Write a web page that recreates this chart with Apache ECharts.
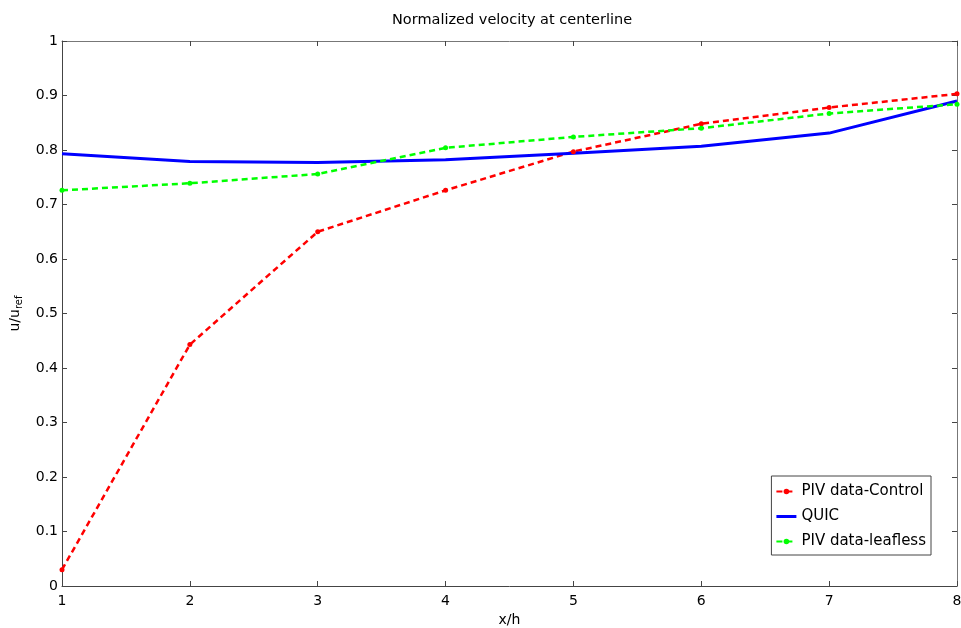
<!DOCTYPE html>
<html><head><meta charset="utf-8">
<script src="https://cdn.jsdelivr.net/npm/echarts@6/dist/echarts.min.js"></script>
<style>html,body{margin:0;padding:0;background:#fff}#c{width:961px;height:628px}</style>
</head><body><div id="c"></div>
<script>
var xValues = [1, 2, 3, 4, 5, 6, 7, 8];
var pivControl = [0.030, 0.443, 0.650, 0.726, 0.797, 0.848, 0.878, 0.903];
var quic = [0.793, 0.779, 0.777, 0.782, 0.794, 0.807, 0.831, 0.890];
var pivLeafless = [0.726, 0.739, 0.756, 0.804, 0.824, 0.840, 0.867, 0.884];
var seriesNames = ['PIV data-Control', 'QUIC', 'PIV data-leafless'];

function pairs(v){ return xValues.map(function(x,i){return [x, v[i]];}); }
var font = 'DejaVu Sans';
var axisCol = '#444';
var chart = echarts.init(document.getElementById('c'));
var xBase = {type:'value', min:1, max:8, interval:1,
  axisLine:{show:true, onZero:false, lineStyle:{color:axisCol, width:1}},
  axisTick:{show:true, inside:true, length:5, lineStyle:{color:axisCol}},
  splitLine:{show:false}};
var yBase = {type:'value', min:0, max:1, interval:0.1,
  axisLine:{show:true, onZero:false, lineStyle:{color:axisCol, width:1}},
  axisTick:{show:true, inside:true, length:5, lineStyle:{color:axisCol}},
  splitLine:{show:false}};
chart.setOption({
  animation:false,
  backgroundColor:'#fff',
  title:{text:'Normalized velocity at centerline', left:387, top:8,
    textStyle:{fontFamily:font, fontSize:14.5, fontWeight:'normal', color:'#000'}},
  grid:{left:62, right:4, top:41, bottom:42, containLabel:false, outerBoundsMode:'none'},
  legend:{orient:'vertical', right:30, top:476,
    data:[{name:seriesNames[0]}, {name:seriesNames[1], icon:'path://M0,0H20V3H0Z'}, {name:seriesNames[2]}],
    backgroundColor:'#fff', borderColor:'#444', borderWidth:1,
    padding:[8,5,6,4], itemWidth:20, itemHeight:7, itemGap:10,
    textStyle:{fontFamily:font, fontSize:15, color:'#000'}},
  xAxis:[
    Object.assign({}, xBase, {position:'bottom', name:'x/h', nameLocation:'middle', nameGap:26,
      nameTextStyle:{fontFamily:font, fontSize:14, color:'#000'},
      axisLabel:{fontFamily:font, fontSize:14, color:'#000', margin:8,
        formatter:function(v){return String(v);}}}),
    Object.assign({}, xBase, {position:'top', axisLabel:{show:false}, axisLine:{show:true, onZero:false, lineStyle:{color:'#777', width:1}}})
  ],
  yAxis:[
    Object.assign({}, yBase, {position:'left', name:'u/u{s|ref}', nameLocation:'middle', nameGap:37, nameRotate:90,
      nameTextStyle:{fontFamily:font, fontSize:14, color:'#000',
        rich:{s:{fontFamily:font, fontSize:10, color:'#000', padding:[8,0,0,0]}}},
      axisLabel:{fontFamily:font, fontSize:14, color:'#000', margin:4,
        formatter:function(v){return String(Math.round(v*10)/10);}}}),
    Object.assign({}, yBase, {position:'right', axisLabel:{show:false}, axisLine:{show:true, onZero:false, lineStyle:{color:'#777', width:1}}})
  ],
  series:[
    {name:seriesNames[0], type:'line', data:pairs(pivControl), xAxisIndex:0, yAxisIndex:0,
      symbol:'circle', symbolSize:5, showSymbol:true,
      lineStyle:{color:'#ff0000', width:2.5, type:[6,4]}, itemStyle:{color:'#ff0000'}},
    {name:seriesNames[1], type:'line', data:pairs(quic), xAxisIndex:0, yAxisIndex:0,
      symbol:'none', lineStyle:{color:'#0000ff', width:3}, itemStyle:{color:'#0000ff'}},
    {name:seriesNames[2], type:'line', data:pairs(pivLeafless), xAxisIndex:0, yAxisIndex:0,
      symbol:'circle', symbolSize:5, showSymbol:true,
      lineStyle:{color:'#00ff00', width:2.5, type:[6,4]}, itemStyle:{color:'#00ff00'}}
  ]
});
</script></body></html>
